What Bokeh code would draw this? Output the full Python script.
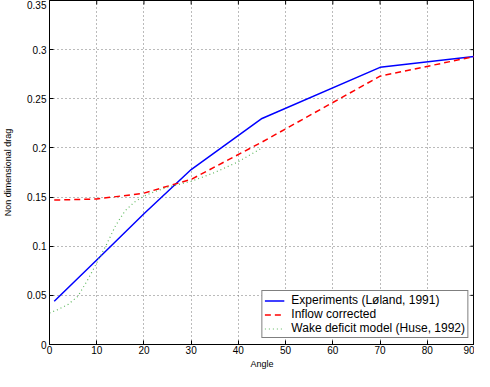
import math
from bokeh.plotting import figure
from bokeh.models import Range1d, FixedTicker, Legend, LegendItem
from bokeh.embed import file_html
from bokeh.resources import INLINE

# ---- data ----
x_ticks = [0, 10, 20, 30, 40, 50, 60, 70, 80, 90]
y_ticks = [0, 0.05, 0.1, 0.15, 0.2, 0.25, 0.3, 0.35]
y_tick_labels = ["0", "0.05", "0.1", "0.15", "0.2", "0.25", "0.3", "0.35"]

exp_angle = [1, 10, 20, 30, 45, 70, 90]
exp_drag = [0.044, 0.086, 0.133, 0.178, 0.230, 0.282, 0.293]

inflow_angle = [1, 10, 20, 30, 45, 70, 90]
inflow_drag = [0.147, 0.148, 0.154, 0.168, 0.206, 0.273, 0.293]

wake_angle = [0, 2, 4, 6, 8, 10, 12, 14, 16, 18, 20, 22, 25, 30, 35, 40, 45]
wake_drag = [0.032, 0.036, 0.041, 0.049, 0.065, 0.083, 0.101, 0.121, 0.136,
             0.145, 0.151, 0.155, 0.160, 0.166, 0.175, 0.186, 0.200]

labels = ["Experiments (Løland, 1991)", "Inflow corrected",
          "Wake deficit model (Huse, 1992)"]

FONT = "Liberation Sans"
X_MIN, X_MAX = 0, 90
Y_MIN, Y_MAX = 0, 0.35

p = figure(width=474, height=371, x_range=Range1d(X_MIN, X_MAX),
           y_range=Range1d(Y_MIN, Y_MAX),
           output_backend="svg", toolbar_location=None,
           min_border_left=49, min_border_right=0, min_border_top=0,
           min_border_bottom=0)

p.outline_line_color = "black"
p.outline_line_width = 1

for ax in (p.xaxis[0], p.yaxis[0]):
    ax.axis_line_color = "black"
    ax.major_tick_in = 4
    ax.major_tick_out = 0
    ax.minor_tick_in = 0
    ax.minor_tick_out = 0
    ax.major_tick_line_color = "black"
    ax.major_label_text_font = FONT
    ax.major_label_text_color = "black"
    ax.major_label_text_font_size = "10px"
    ax.axis_label_text_font = FONT
    ax.axis_label_text_font_style = "normal"
    ax.axis_label_text_font_size = "9px"
    ax.axis_label_text_color = "black"
    ax.major_label_standoff = 3

p.xaxis.ticker = FixedTicker(ticks=x_ticks)
p.yaxis.ticker = FixedTicker(ticks=y_ticks)
p.yaxis.major_label_overrides = {t: l for t, l in zip(y_ticks, y_tick_labels)}
p.xaxis.axis_label = "Angle"
p.yaxis.axis_label = "Non dimensional drag"
p.xaxis.major_label_standoff = 1
p.xaxis.axis_label_standoff = 2
p.yaxis.axis_label_standoff = 11

p.xgrid.ticker = FixedTicker(ticks=x_ticks)
p.ygrid.ticker = FixedTicker(ticks=y_ticks)
p.grid.grid_line_color = "#777777"
p.grid.grid_line_dash = "1 3"
p.grid.grid_line_width = 1

# inward tick marks on the top and right edges (Matlab box style)
p.scatter(x_ticks, [Y_MAX] * len(x_ticks), marker="dash", angle=math.pi / 2,
          size=8, line_color="black", line_width=1)
p.scatter([X_MAX] * len(y_ticks), y_ticks, marker="dash",
          size=8, line_color="black", line_width=1)

r1 = p.line(exp_angle, exp_drag, line_color="#0000ff", line_width=1.5)
r2 = p.line(inflow_angle, inflow_drag, line_color="#ff0000", line_width=1.5,
            line_dash="6 4")
r3 = p.line(wake_angle, wake_drag, line_color="#5fb85f", line_width=1.2,
            line_dash="1 3")

legend = Legend(items=[LegendItem(label=labels[0], renderers=[r1]),
                       LegendItem(label=labels[1], renderers=[r2]),
                       LegendItem(label=labels[2], renderers=[r3])],
                location="bottom_right")
legend.label_text_font = FONT
legend.label_text_font_size = "12px"
legend.label_text_color = "black"
legend.label_height = 13
legend.glyph_height = 13
legend.glyph_width = 20
legend.label_standoff = 7
legend.spacing = 0
legend.padding = 2
legend.margin = 6
legend.border_line_color = "black"
legend.border_line_width = 1
legend.background_fill_alpha = 1
p.add_layout(legend)

open("out.html", "w").write(file_html(p, INLINE))
